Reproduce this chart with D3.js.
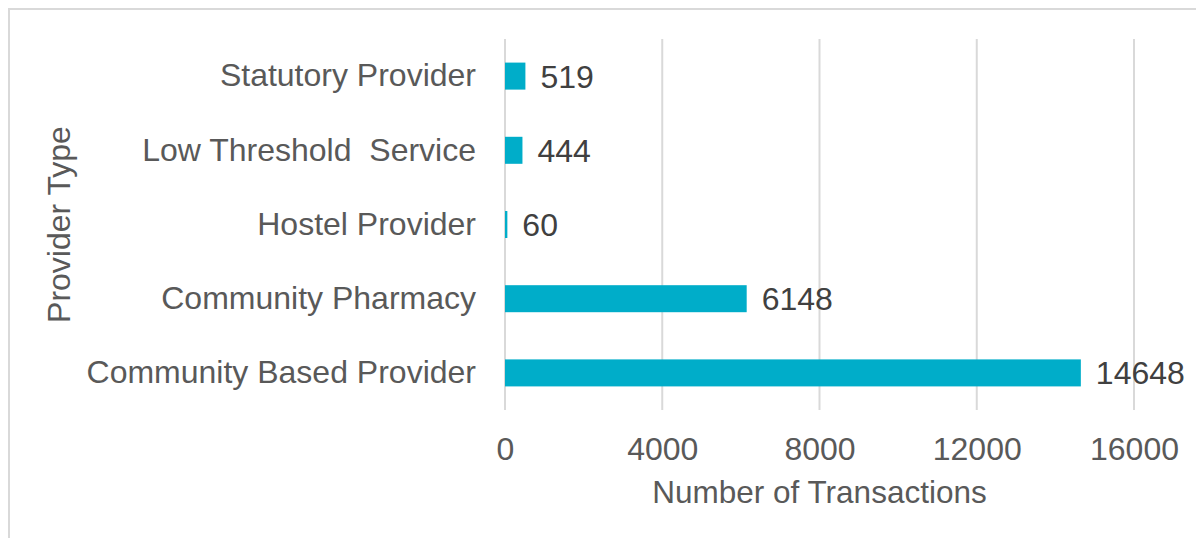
<!DOCTYPE html>
<html>
<head>
<meta charset="utf-8">
<script src="https://cdn.jsdelivr.net/npm/d3@7"></script>
<style>
  body { margin: 0; background: #fff; }
  svg text { font-family: "Liberation Sans", Arial, sans-serif; }
</style>
</head>
<body>
<svg id="chart" width="1196" height="538"></svg>
<script>
// data
const categories = ["Statutory Provider", "Low Threshold  Service", "Hostel Provider", "Community Pharmacy", "Community Based Provider"];
const transactions = [519, 444, 60, 6148, 14648];
const xTicks = [0, 4000, 8000, 12000, 16000];

const svg = d3.select("#chart");
const plot = { left: 505, right: 1134, top: 39, bottom: 410 };

// outer frame of the chart area
svg.append("rect")
   .attr("x", 9).attr("y", 9)
   .attr("width", 1300).attr("height", 700)
   .attr("fill", "none")
   .attr("stroke", "#d9d9d9")
   .attr("stroke-width", 2);

const x = d3.scaleLinear()
            .domain([0, 16000])
            .range([plot.left, plot.right]);

const y = d3.scaleBand()
            .domain(categories)
            .range([plot.top, plot.bottom])
            .paddingInner(0.636)
            .paddingOuter(0.318);

// vertical gridlines (first one doubles as the axis line)
svg.append("g")
   .selectAll("line")
   .data(xTicks)
   .enter().append("line")
   .attr("x1", d => x(d)).attr("x2", d => x(d))
   .attr("y1", plot.top).attr("y2", plot.bottom)
   .attr("stroke", "#d9d9d9")
   .attr("stroke-width", 2);

// x tick labels
const xAxis = d3.axisBottom(x).tickValues(xTicks).tickSize(0).tickPadding(0).tickFormat(d3.format("d"));
const gx = svg.append("g")
              .attr("transform", `translate(0, ${plot.bottom})`)
              .call(xAxis);
gx.select(".domain").remove();
gx.selectAll("text")
  .attr("y", 50).attr("dy", null)
  .attr("fill", "#595959")
  .style("font-size", "32px");

// y category labels (keep the double space in "Low Threshold  Service")
const yAxis = d3.axisLeft(y).tickSize(0).tickPadding(29);
const gy = svg.append("g")
              .attr("transform", `translate(${plot.left}, 0)`)
              .call(yAxis);
gy.select(".domain").remove();
gy.selectAll("text")
  .attr("fill", "#595959")
  .style("white-space", "pre")
  .style("font-size", "32px");

// bars
svg.append("g")
   .selectAll("rect")
   .data(categories)
   .enter().append("rect")
   .attr("x", x(0))
   .attr("y", d => y(d))
   .attr("width", (d, i) => x(transactions[i]) - x(0))
   .attr("height", y.bandwidth())
   .attr("fill", "#00adc9");

// value labels
svg.append("g")
   .selectAll("text")
   .data(categories)
   .enter().append("text")
   .attr("x", (d, i) => x(transactions[i]) + 15)
   .attr("y", d => y(d) + y.bandwidth() / 2)
   .attr("dy", "0.36em")
   .attr("fill", "#404040")
   .style("font-size", "32px")
   .text((d, i) => transactions[i]);

// axis titles
svg.append("text")
   .attr("x", (plot.left + plot.right) / 2)
   .attr("y", 503)
   .attr("text-anchor", "middle")
   .attr("fill", "#595959")
   .style("font-size", "31.5px")
   .text("Number of Transactions");

svg.append("text")
   .attr("transform", `translate(70, ${(plot.top + plot.bottom) / 2}) rotate(-90)`)
   .attr("text-anchor", "middle")
   .attr("fill", "#595959")
   .style("font-size", "32px")
   .text("Provider Type");
</script>
</body>
</html>
